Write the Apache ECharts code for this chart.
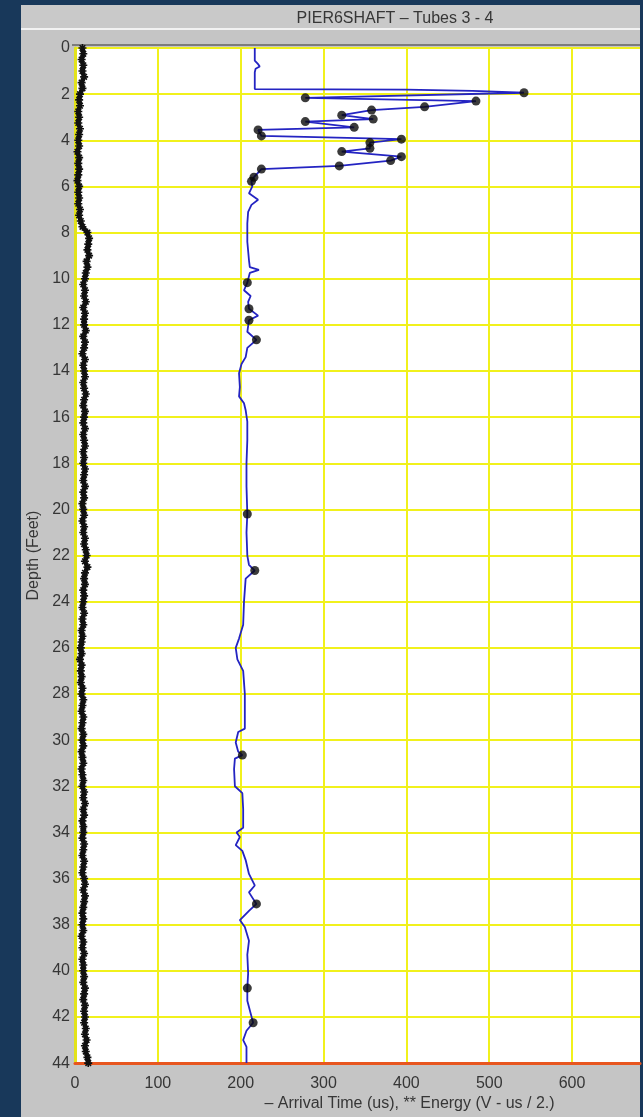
<!DOCTYPE html>
<html>
<head>
<meta charset="utf-8">
<script src="https://cdn.jsdelivr.net/npm/echarts@6/dist/echarts.min.js"></script>
<style>
  html, body { margin: 0; padding: 0; background: #18385a; }
  #chart { width: 643px; height: 1117px; }
</style>
</head>
<body>
<div id="chart"></div>
<script>
// Crosshole sonic log, tubes 3-4: depth (ft) vs first arrival time (us) and energy
const chartTitle = 'PIER6SHAFT \u2013 Tubes 3 - 4';
const depthTicks = [0, 2, 4, 6, 8, 10, 12, 14, 16, 18, 20, 22, 24, 26, 28, 30, 32, 34, 36, 38, 40, 42, 44];
const timeTicks = [0, 100, 200, 300, 400, 500, 600];

// Arrival time trace (depth ft, time us); flagged readings are marked with a dot
const arrivalDepth = [
  0.0, 0.55, 0.7, 0.8, 0.9, 1.05, 1.78, 1.80, 1.86, 1.94,
  2.16, 2.30, 2.55, 2.69, 2.91, 3.08, 3.19, 3.44, 3.55, 3.81,
  3.95, 4.10, 4.35, 4.49, 4.71, 4.88, 5.11, 5.25, 5.60, 5.78,
  6.0, 6.3, 6.58, 6.8, 7.1, 7.6, 8.4, 9.2, 9.5, 9.62,
  9.75, 10.17, 10.5, 10.75, 11.0, 11.3, 11.6, 11.8, 12.3, 12.65,
  13.0, 13.4, 13.7, 14.1, 14.7, 15.1, 15.4, 15.7, 16.2, 17.0,
  18.0, 19.0, 20.2, 21.0, 22.0, 22.4, 22.65, 23.0, 24.0, 25.0,
  25.6, 26.0, 26.5, 27.0, 28.0, 29.5, 29.65, 30.1, 30.5, 30.65,
  30.8, 31.25, 32.0, 32.3, 33.0, 33.8, 34.0, 34.2, 34.55, 34.8,
  35.2, 35.8, 36.3, 36.6, 37.1, 37.4, 37.8, 38.1, 38.7, 39.3,
  40.1, 40.75, 41.3, 42.25, 42.6, 43.0, 43.3, 44.0
];
const arrivalTime = [
  217, 217, 221, 223, 218, 217, 217, 400, 480, 542,
  278, 484, 422, 358, 322, 360, 278, 337, 221, 225,
  394, 356, 356, 322, 394, 381, 319, 225, 216, 213,
  214, 210, 221, 213, 209, 208, 208, 210, 211, 222,
  211, 208, 204, 212, 209, 210, 221, 210, 208, 219,
  208, 206, 201, 198, 199, 198, 204, 206, 208, 208,
  207, 207, 208, 207, 208, 210, 217, 206, 204, 203,
  198, 194, 196, 203, 205, 205, 197, 194, 197, 202,
  193, 192, 193, 202, 203, 203, 195, 199, 194, 202,
  206, 210, 217, 210, 219, 210, 199, 205, 210, 208,
  209, 208, 208, 215, 207, 203, 207, 207
];
const arrivalFlag = [
  0, 0, 0, 0, 0, 0, 0, 0, 0, 1,
  1, 1, 1, 1, 1, 1, 1, 1, 1, 1,
  1, 1, 1, 1, 1, 1, 1, 1, 1, 1,
  0, 0, 0, 0, 0, 0, 0, 0, 0, 0,
  0, 1, 0, 0, 0, 1, 0, 1, 0, 1,
  0, 0, 0, 0, 0, 0, 0, 0, 0, 0,
  0, 0, 1, 0, 0, 0, 1, 0, 0, 0,
  0, 0, 0, 0, 0, 0, 0, 0, 0, 1,
  0, 0, 0, 0, 0, 0, 0, 0, 0, 0,
  0, 0, 0, 0, 1, 0, 0, 0, 0, 0,
  0, 1, 0, 1, 0, 0, 0, 0
];

// Energy (V-us/2), sampled every 0.25 ft from 0 to 44 ft
const energyStep = 0.25;
const energyValue = [
  9, 10, 8, 10, 9, 11, 8, 9,
  6, 5, 6, 4, 5, 4, 6, 5,
  4, 5, 3, 5, 4, 5, 4, 3,
  5, 4, 5, 4, 6, 5, 7, 9,
  15, 17, 16, 15, 17, 14, 15, 13,
  12, 10, 12, 11, 13, 10, 12, 11,
  11, 13, 10, 12, 11, 9, 12, 10,
  11, 12, 10, 11, 13, 11, 10, 12,
  11, 10, 12, 10, 11, 12, 10, 11,
  10, 12, 11, 10, 12, 10, 11, 9,
  10, 11, 9, 11, 10, 12, 11, 13,
  14, 12, 15, 12, 11, 12, 10, 11,
  10, 9, 11, 9, 10, 8, 9, 8,
  7, 8, 6, 8, 7, 8, 7, 9,
  8, 10, 9, 8, 10, 9, 8, 10,
  9, 10, 8, 9, 10, 8, 9, 10,
  9, 11, 10, 12, 10, 11, 9, 10,
  10, 9, 11, 10, 9, 11, 10, 9,
  11, 12, 10, 12, 11, 10, 9, 10,
  9, 10, 8, 10, 9, 11, 9, 10,
  10, 11, 10, 12, 11, 10, 12, 11,
  12, 11, 13, 12, 14, 12, 13, 15,
  16
];

const arrivalData = arrivalTime.map((t, i) => [t, arrivalDepth[i]]);
const flaggedData = arrivalData.filter((d, i) => arrivalFlag[i] === 1);
const energyData = energyValue.map((v, i) => [v, i * energyStep]);

const FONT = "'Liberation Sans', Arial, sans-serif";
const TEXT = '#363636';
const YELLOW = '#f1f11c';
// "**" marker used for energy samples
const ASTERISK = 'path://M5 0L5 10M0 5L10 5M1.5 1.5L8.5 8.5M8.5 1.5L1.5 8.5';

const chart = echarts.init(document.getElementById('chart'), null, { renderer: 'canvas' });

chart.setOption({
  backgroundColor: '#18385a',
  animation: false,
  graphic: [
    // instrument panel
    { type: 'rect', z: -10, shape: { x: 21, y: 5, width: 619, height: 1112 }, style: { fill: '#c5c5c5' } },
    { type: 'rect', z: -9, shape: { x: 21, y: 5, width: 619, height: 23 }, style: { fill: '#c9c9c9' } },
    { type: 'rect', z: -9, shape: { x: 21, y: 28, width: 619, height: 2 }, style: { fill: '#f2f2f2' } },
    { type: 'rect', z: -9, shape: { x: 72, y: 44, width: 568, height: 2 }, style: { fill: '#7c7c7c' } },
    {
      type: 'text', z: 10, x: 395, y: 19,
      style: { text: chartTitle, fill: TEXT, font: '16px ' + FONT, align: 'center', verticalAlign: 'middle' }
    }
  ],
  grid: {
    left: 75, right: 3, top: 48, bottom: 53,
    show: true, backgroundColor: '#ffffff', borderWidth: 0
  },
  xAxis: {
    type: 'value', min: 0, max: 682, interval: 100,
    position: 'bottom',
    name: '\u2013 Arrival Time (us), ** Energy (V - us / 2.)',
    nameLocation: 'middle', nameGap: 32,
    nameTextStyle: { color: TEXT, fontSize: 16, fontFamily: FONT, padding: [0, 0, 0, 104] },
    axisLine: { onZero: false, lineStyle: { color: '#e8561f', width: 3 } },
    axisTick: { show: false },
    axisLabel: {
      color: TEXT, fontSize: 16, fontFamily: FONT, margin: 12, showMaxLabel: false,
      formatter: v => (timeTicks.indexOf(v) >= 0 ? String(v) : '')
    },
    splitLine: { show: true, showMaxLine: false, lineStyle: { color: YELLOW, width: 2 } }
  },
  yAxis: {
    type: 'value', inverse: true, min: 0, max: 44, interval: 2,
    name: 'Depth (Feet)',
    nameLocation: 'middle', nameGap: 33,
    nameTextStyle: { color: TEXT, fontSize: 16, fontFamily: FONT },
    axisLine: { onZero: false, lineStyle: { color: '#e3e31a', width: 3 } },
    axisTick: { show: false },
    axisLabel: {
      color: TEXT, fontSize: 16, fontFamily: FONT, margin: 5,
      formatter: v => (depthTicks.indexOf(v) >= 0 ? String(v) : '')
    },
    splitLine: { show: true, lineStyle: { color: YELLOW, width: 2 } }
  },
  series: [
    {
      name: 'Energy', type: 'line', data: energyData,
      symbol: ASTERISK, symbolSize: 8, showSymbol: true,
      itemStyle: { color: '#111111', borderColor: '#111111', borderWidth: 1.6 },
      lineStyle: { color: '#111111', width: 4.5 },
      z: 3
    },
    {
      name: 'Arrival Time', type: 'line', data: arrivalData,
      symbol: 'none',
      lineStyle: { color: '#2424c2', width: 1.8 },
      z: 4
    },
    {
      name: 'Flagged', type: 'scatter', data: flaggedData,
      symbol: 'circle', symbolSize: 9,
      itemStyle: { color: '#0a0a0a' },
      z: 5
    }
  ]
});
</script>
</body>
</html>
